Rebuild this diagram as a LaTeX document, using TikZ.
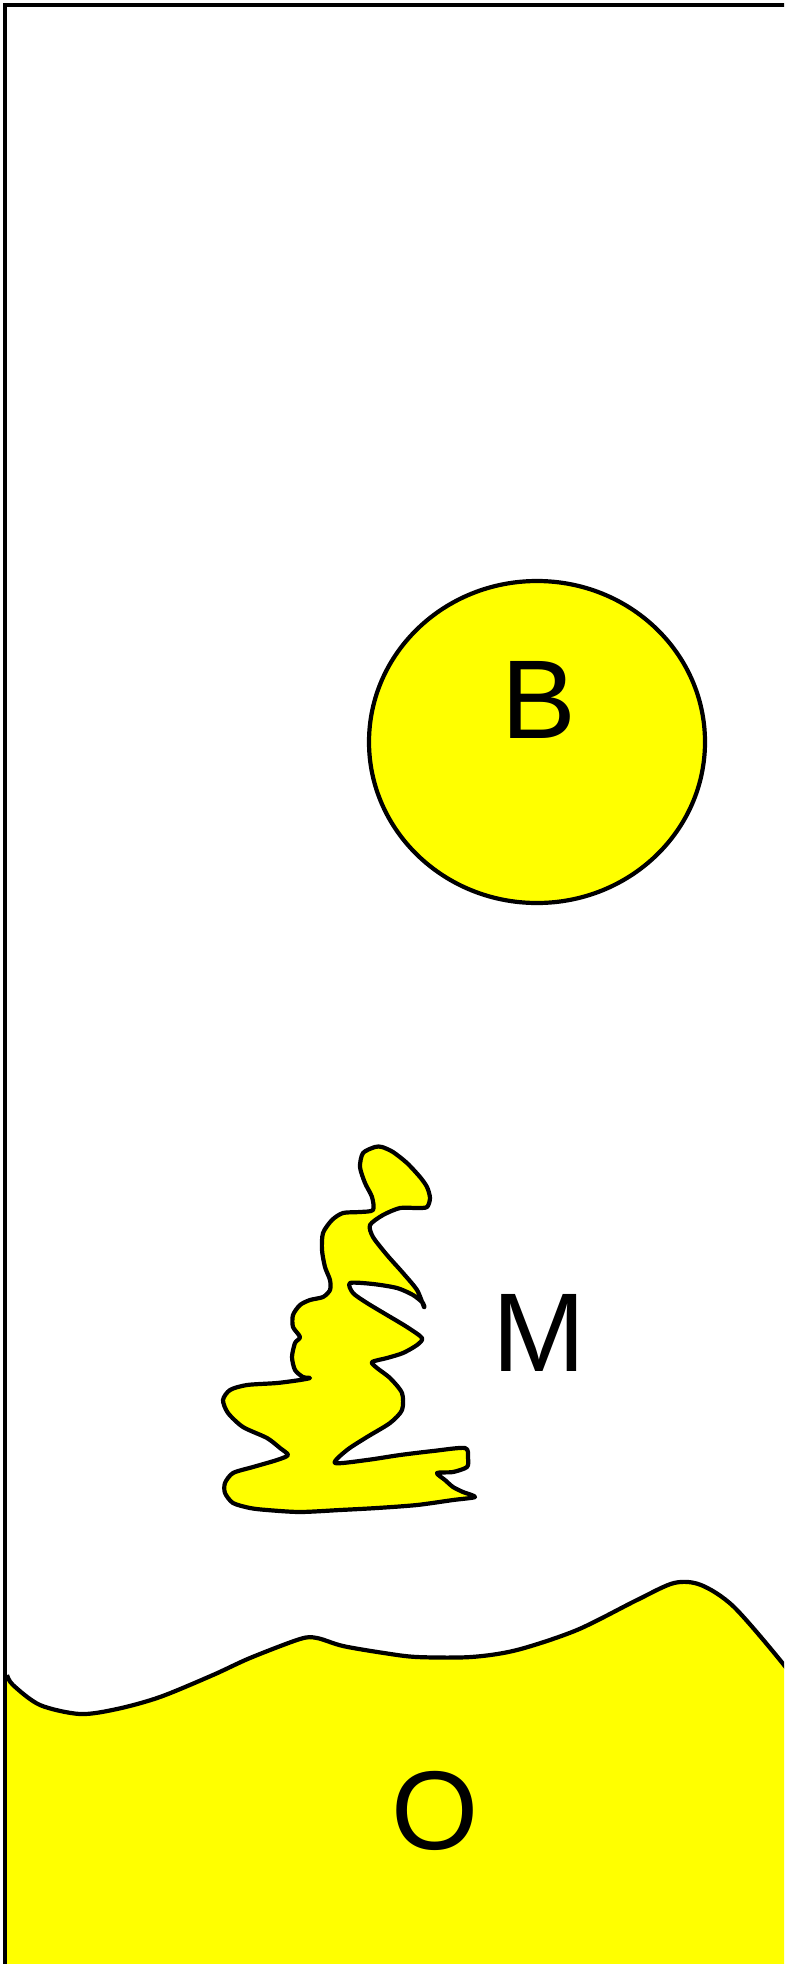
\documentclass[tikz,border=0pt]{standalone}
\usepackage{fontspec}
\setmainfont{Liberation Sans}
\definecolor{blobfill}{HTML}{FFFF00}
\definecolor{ink}{HTML}{000000}
\tikzset{
  % ---- outer box -------------------------------------------------
  boxedge/.style   = {draw=ink, line width=2.3pt, line cap=rect},
  % ---- yellow regions --------------------------------------------
  blob/.style      = {draw=ink, fill=blobfill, line width=2.1pt,
                      line join=round},
  blobline/.style  = {draw=ink, line width=2.1pt, line join=round},
  % ---- region letters --------------------------------------------
  tag/.style       = {font=\fontsize{56}{66}\selectfont, text=ink,
                      inner sep=0pt},
}

\begin{document}
\begin{tikzpicture}[x=0.5pt, y=-0.5pt]
  \useasboundingbox (0,0) rectangle (784,1964);
  \clip (0,0) rectangle (784,1964);
  % round blob
  \draw[blob] (537,742) ellipse [x radius=84pt, y radius=80.5pt];
  \node[tag] (tB) at (539,700) {B};
  % ragged blob
  \draw[blob] plot[smooth cycle, tension=0.45] coordinates {
    (375,1147) (363,1153) (360,1167) (365,1183) (372,1197) (373,1210)
    (360,1212) (343,1213) (332,1220) (323,1233) (322,1250) (325,1267)
    (330,1280) (330,1290) (323,1297) (310,1300) (300,1305) (293,1315)
    (293,1327) (300,1337) (295,1343) (292,1357) (295,1370) (303,1377)
    (310,1378) (300,1380) (277,1383) (247,1385) (230,1390) (223,1400)
    (228,1413) (243,1427) (267,1438) (280,1448) (288,1455) (277,1460)
    (253,1467) (233,1473) (225,1483) (225,1493) (233,1503) (250,1508)
    (267,1510) (300,1512) (340,1510) (377,1508) (417,1505) (453,1500)
    (475,1497) (463,1492) (453,1487) (445,1480) (437,1473) (453,1472)
    (467,1467) (468,1458) (465,1448) (433,1451) (400,1455) (367,1460)
    (335,1463) (347,1450) (367,1437) (390,1423) (402,1410) (402,1393)
    (390,1378) (377,1368) (372,1362) (387,1358) (403,1353) (417,1345)
    (422,1338) (407,1327) (387,1315) (367,1303) (353,1293) (350,1283)
    (373,1284) (397,1288) (413,1295) (423,1303) (424,1307) (417,1290)
    (403,1273) (387,1255) (373,1237) (370,1225) (383,1215) (400,1208)
    (417,1208) (427,1207) (430,1198) (427,1187) (420,1177) (407,1163)
    (393,1152) (382,1147)};
  \node[tag] (tM) at (539,1333) {M};
  % lower region
  \fill[blobfill] plot[smooth, tension=0.5] coordinates {
    (7,1675) (13,1685) (40,1705) (80,1714) (117,1709) (160,1697)
    (213,1675) (250,1658) (300,1639) (317,1638) (343,1646) (384,1653)
    (417,1657) (471,1657) (517,1650) (577,1630) (637,1600) (674,1583)
    (701,1585) (734,1607) (784,1665) (800,1690)}
    -- (800,2000) -- (5,2000) -- cycle;
  \draw[blobline] plot[smooth, tension=0.5] coordinates {
    (7,1675) (13,1685) (40,1705) (80,1714) (117,1709) (160,1697)
    (213,1675) (250,1658) (300,1639) (317,1638) (343,1646) (384,1653)
    (417,1657) (471,1657) (517,1650) (577,1630) (637,1600) (674,1583)
    (701,1585) (734,1607) (784,1665) (800,1690)};
  \node[tag] (tO) at (435,1811) {O};
  % outer box, open to the right and below
  \draw[boxedge] (5,2000) -- (5,5) -- (800,5);
\end{tikzpicture}
\end{document}
